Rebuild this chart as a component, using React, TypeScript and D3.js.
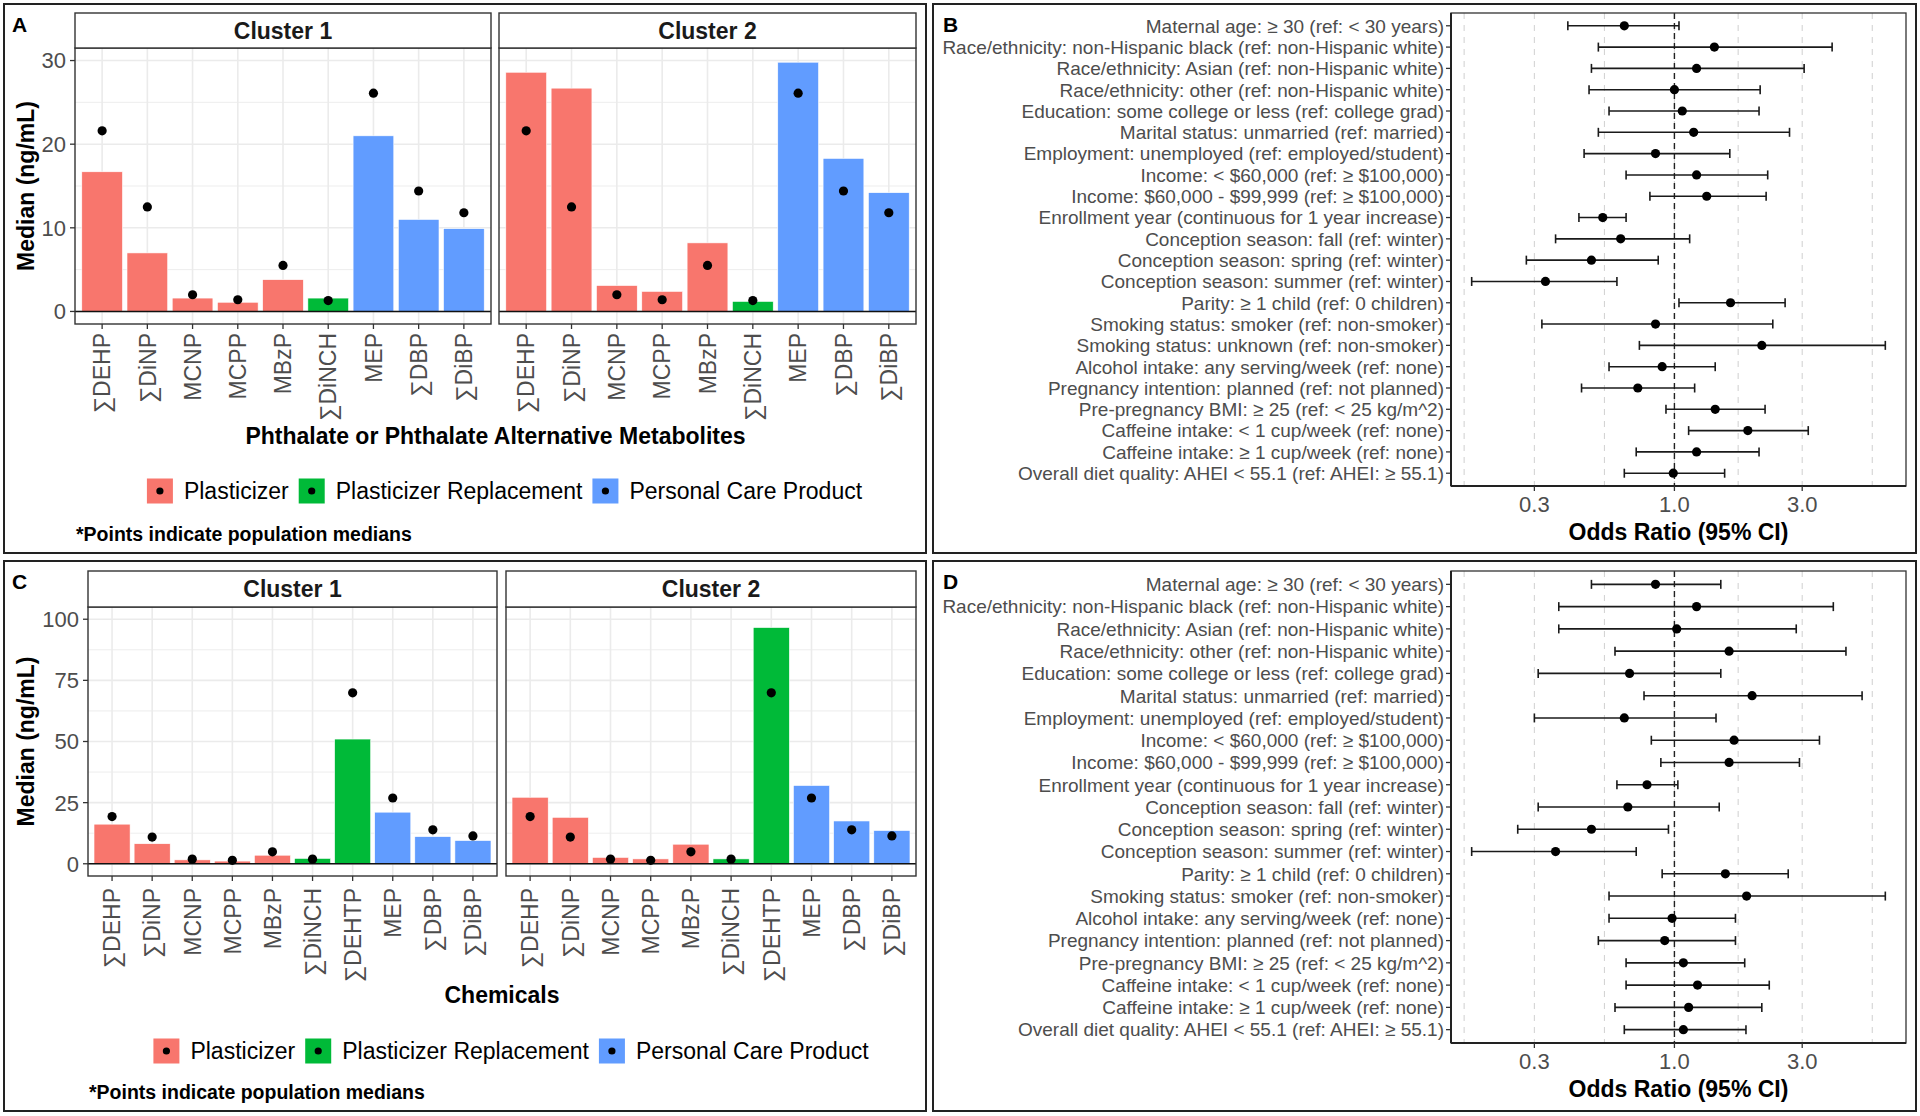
import React from 'react';
import * as d3 from 'd3';

const FONT = '"Liberation Sans", Arial, Helvetica, sans-serif';
const AXIS_GREY = '#4D4D4D';
const GRID = '#EBEBEB';

const useColors: Record<string, string> = {
  'Plasticizer': '#F8766D',
  'Plasticizer Replacement': '#00BA38',
  'Personal Care Product': '#619CFF',
};
const useTypes = ['Plasticizer', 'Plasticizer Replacement', 'Personal Care Product'];

// panel A: phthalate / alternative metabolites, median ng/mL
const metabolitesA = ['∑DEHP', '∑DiNP', 'MCNP', 'MCPP', 'MBzP', '∑DiNCH', 'MEP', '∑DBP', '∑DiBP'];
const useA = ['Plasticizer', 'Plasticizer', 'Plasticizer', 'Plasticizer', 'Plasticizer',
  'Plasticizer Replacement', 'Personal Care Product', 'Personal Care Product', 'Personal Care Product'];
const cluster1A = [16.7, 7.0, 1.6, 1.1, 3.8, 1.6, 21.0, 11.0, 9.9];
const cluster2A = [28.6, 26.7, 3.1, 2.4, 8.2, 1.2, 29.8, 18.3, 14.2];
const populationA = [21.6, 12.5, 2.0, 1.4, 5.5, 1.3, 26.1, 14.4, 11.8];

// panel C: chemicals, median ng/mL
const metabolitesC = ['∑DEHP', '∑DiNP', 'MCNP', 'MCPP', 'MBzP', '∑DiNCH', '∑DEHTP', 'MEP', '∑DBP', '∑DiBP'];
const useC = ['Plasticizer', 'Plasticizer', 'Plasticizer', 'Plasticizer', 'Plasticizer',
  'Plasticizer Replacement', 'Plasticizer Replacement', 'Personal Care Product', 'Personal Care Product', 'Personal Care Product'];
const cluster1C = [16.2, 8.2, 1.6, 1.1, 3.5, 2.2, 51.0, 21.1, 11.1, 9.5];
const cluster2C = [27.2, 19.0, 2.6, 2.0, 8.0, 2.0, 96.6, 32.0, 17.5, 13.6];
const populationC = [19.3, 10.9, 1.9, 1.4, 4.9, 1.9, 69.9, 26.9, 13.9, 11.4];

// panels B and D: odds ratios (95% CI)
const predictorsB = [
  'Maternal age: ≥ 30 (ref: < 30 years)',
  'Race/ethnicity: non-Hispanic black (ref: non-Hispanic white)',
  'Race/ethnicity: Asian (ref: non-Hispanic white)',
  'Race/ethnicity: other (ref: non-Hispanic white)',
  'Education: some college or less (ref: college grad)',
  'Marital status: unmarried (ref: married)',
  'Employment: unemployed (ref: employed/student)',
  'Income: < $60,000 (ref: ≥ $100,000)',
  'Income: $60,000 - $99,999 (ref: ≥ $100,000)',
  'Enrollment year (continuous for 1 year increase)',
  'Conception season: fall (ref: winter)',
  'Conception season: spring (ref: winter)',
  'Conception season: summer (ref: winter)',
  'Parity: ≥ 1 child (ref: 0 children)',
  'Smoking status: smoker (ref: non-smoker)',
  'Smoking status: unknown (ref: non-smoker)',
  'Alcohol intake: any serving/week (ref: none)',
  'Pregnancy intention: planned (ref: not planned)',
  'Pre-pregnancy BMI: ≥ 25 (ref: < 25 kg/m^2)',
  'Caffeine intake: < 1 cup/week (ref: none)',
  'Caffeine intake: ≥ 1 cup/week (ref: none)',
  'Overall diet quality: AHEI < 55.1 (ref: AHEI: ≥ 55.1)',
];
const orB = [0.65, 1.41, 1.21, 1.00, 1.07, 1.18, 0.85, 1.21, 1.32, 0.54, 0.63, 0.49, 0.33, 1.62, 0.85, 2.12, 0.90, 0.73, 1.42, 1.88, 1.21, 0.99];
const loB = [0.40, 0.52, 0.49, 0.48, 0.57, 0.52, 0.46, 0.66, 0.81, 0.44, 0.36, 0.28, 0.175, 1.04, 0.32, 0.74, 0.57, 0.45, 0.93, 1.13, 0.72, 0.65];
const hiB = [1.04, 3.88, 3.05, 2.09, 2.07, 2.69, 1.61, 2.23, 2.20, 0.66, 1.14, 0.87, 0.61, 2.59, 2.33, 6.13, 1.42, 1.19, 2.18, 3.16, 2.07, 1.54];

const predictorsD = predictorsB.filter(p => p !== 'Smoking status: unknown (ref: non-smoker)');
const orD = [0.85, 1.21, 1.02, 1.60, 0.68, 1.95, 0.65, 1.67, 1.60, 0.79, 0.67, 0.49, 0.36, 1.55, 1.86, 0.98, 0.92, 1.08, 1.22, 1.13, 1.08];
const loD = [0.49, 0.37, 0.37, 0.60, 0.31, 0.77, 0.30, 0.82, 0.89, 0.61, 0.31, 0.26, 0.175, 0.90, 0.57, 0.57, 0.52, 0.66, 0.66, 0.60, 0.65];
const hiD = [1.49, 3.92, 2.85, 4.37, 1.49, 5.02, 1.43, 3.48, 2.93, 1.03, 1.47, 0.95, 0.72, 2.66, 6.13, 1.69, 1.69, 1.83, 2.26, 2.12, 1.85];

const orBreaks = [0.3, 1, 3];
const orMinor = [0.164, 0.548, 1.73, 5.48];

let measureCtx: CanvasRenderingContext2D | null = null;
function textWidth(s: string, font: string) {
  if (!measureCtx) measureCtx = document.createElement('canvas').getContext('2d');
  if (!measureCtx) return s.length * 11;
  measureCtx.font = font;
  return measureCtx.measureText(s).width;
}

interface Facet { title: string; x0: number; x1: number; values: number[] }

interface BarPanelProps {
  letter: string;
  box: [number, number, number, number];
  cats: string[];
  uses: string[];
  medians: number[];
  facets: Facet[];
  stripTop: number;
  stripBottom: number;
  panelBottom: number;
  yDomain: [number, number];
  yTicks: number[];
  yMinor: number[];
  labelGap: number;
  xTitle: string;
  xTitleY: number;
  legendY: number;
  noteY: number;
}

function Legend({ cx, cy }: { cx: number; cy: number }) {
  const font = `23px ${FONT}`;
  const key = 26, gapText = 11, gapItem = 10;
  const widths = useTypes.map(t => textWidth(t, font));
  const total = widths.reduce((a, w) => a + key + gapText + w, 0) + gapItem * (useTypes.length - 1);
  let x = cx - total / 2;
  const items = useTypes.map((t, i) => {
    const x0 = x;
    x += key + gapText + widths[i] + gapItem;
    return (
      <g key={t}>
        <rect x={x0} y={cy - 12.5} width={key} height={25} fill={useColors[t]} />
        <circle cx={x0 + key / 2} cy={cy} r={3.6} fill="#000" />
        <text x={x0 + key + gapText} y={cy} dy="0.36em" fontSize={23} fill="#000">{t}</text>
      </g>
    );
  });
  return <g>{items}</g>;
}

function BarPanel(p: BarPanelProps) {
  const y = d3.scaleLinear().domain(p.yDomain).range([p.panelBottom, p.stripBottom]);
  const [bx0, by0, bx1, by1] = p.box;
  const plotL = p.facets[0].x0;
  const plotR = p.facets[p.facets.length - 1].x1;
  return (
    <g fontFamily={FONT}>
      <rect x={bx0} y={by0} width={bx1 - bx0} height={by1 - by0} fill="white" stroke="#222" strokeWidth={2} />
      <text x={bx0 + 8} y={by0 + 28} fontSize={21} fontWeight="bold">{p.letter}</text>
      {p.facets.map((f, fi) => {
        const x = d3.scalePoint<string>().domain(p.cats).range([f.x0, f.x1]).padding(0.6);
        const bw = x.step() * 0.9;
        return (
          <g key={fi}>
            {p.yMinor.map(v => (
              <line key={'mn' + v} x1={f.x0} x2={f.x1} y1={y(v)} y2={y(v)} stroke={GRID} strokeWidth={0.9} />
            ))}
            {p.yTicks.map(v => (
              <line key={'mj' + v} x1={f.x0} x2={f.x1} y1={y(v)} y2={y(v)} stroke={GRID} strokeWidth={1.6} />
            ))}
            {p.cats.map(c => (
              <line key={'gx' + c} x1={x(c)} x2={x(c)} y1={p.stripBottom} y2={p.panelBottom} stroke={GRID} strokeWidth={1.6} />
            ))}
            {f.values.map((v, i) => (
              <rect key={'b' + i} x={(x(p.cats[i]) as number) - bw / 2} y={y(v)} width={bw}
                height={y(0) - y(v)} fill={useColors[p.uses[i]]} stroke="white" strokeWidth={0.6} />
            ))}
            <line x1={f.x0} x2={f.x1} y1={y(0)} y2={y(0)} stroke="#111" strokeWidth={1.4} />
            {p.medians.map((m, i) => (
              <circle key={'m' + i} cx={x(p.cats[i])} cy={y(m)} r={4.6} fill="#000" />
            ))}
            <rect x={f.x0} y={p.stripBottom} width={f.x1 - f.x0} height={p.panelBottom - p.stripBottom}
              fill="none" stroke="#333" strokeWidth={1.4} />
            <rect x={f.x0} y={p.stripTop} width={f.x1 - f.x0} height={p.stripBottom - p.stripTop}
              fill="white" stroke="#333" strokeWidth={1.4} />
            <text x={(f.x0 + f.x1) / 2} y={(p.stripTop + p.stripBottom) / 2} dy="0.36em" textAnchor="middle"
              fontSize={23} fontWeight="bold" fill="#1A1A1A">{f.title}</text>
            {p.cats.map(c => (
              <g key={'t' + c}>
                <line x1={x(c)} x2={x(c)} y1={p.panelBottom} y2={p.panelBottom + 5} stroke="#333" strokeWidth={1.3} />
                <text transform={`translate(${x(c)},${p.panelBottom + p.labelGap}) rotate(-90)`}
                  textAnchor="end" dy="0.36em" fontSize={23} fill={AXIS_GREY}>{c}</text>
              </g>
            ))}
          </g>
        );
      })}
      {p.yTicks.map(v => (
        <g key={'yt' + v}>
          <line x1={plotL - 5} x2={plotL} y1={y(v)} y2={y(v)} stroke="#333" strokeWidth={1.3} />
          <text x={plotL - 9} y={y(v)} dy="0.36em" textAnchor="end" fontSize={22} fill={AXIS_GREY}>{v}</text>
        </g>
      ))}
      <text transform={`translate(${bx0 + 22},${(p.stripBottom + p.panelBottom) / 2}) rotate(-90)`}
        textAnchor="middle" dy="0.36em" fontSize={23} fontWeight="bold">Median (ng/mL)</text>
      <text x={(plotL + plotR) / 2} y={p.xTitleY} textAnchor="middle" fontSize={23} fontWeight="bold">{p.xTitle}</text>
      <Legend cx={(plotL + plotR) / 2 + 9} cy={p.legendY} />
      <text x={plotL + 1} y={p.noteY} fontSize={19.5} fontWeight="bold">*Points indicate population medians</text>
    </g>
  );
}

interface ForestProps {
  letter: string;
  box: [number, number, number, number];
  labels: string[];
  or: number[];
  lo: number[];
  hi: number[];
  x0: number;
  x1: number;
  y0: number;
  y1: number;
}

function Forest(p: ForestProps) {
  const logs = [...p.lo, ...p.hi].map(v => Math.log10(v));
  const [lmin, lmax] = d3.extent(logs) as [number, number];
  const pad = (lmax - lmin) * 0.05;
  const x = d3.scaleLog().domain([10 ** (lmin - pad), 10 ** (lmax + pad)]).range([p.x0, p.x1]);
  const y = d3.scalePoint<string>().domain(p.labels).range([p.y0, p.y1]).padding(0.6);
  const [bx0, by0, bx1, by1] = p.box;
  const cap = 4.5;
  return (
    <g fontFamily={FONT}>
      <rect x={bx0} y={by0} width={bx1 - bx0} height={by1 - by0} fill="white" stroke="#222" strokeWidth={2} />
      <text x={bx0 + 10} y={by0 + 28} fontSize={21} fontWeight="bold">{p.letter}</text>
      {[...orMinor, ...orBreaks].map(v => (
        <line key={'g' + v} x1={x(v)} x2={x(v)} y1={p.y0} y2={p.y1} stroke="#D4D4D4" strokeWidth={1.1} strokeDasharray="6,6" />
      ))}
      <line x1={x(1)} x2={x(1)} y1={p.y0} y2={p.y1} stroke="#222" strokeWidth={1.4} strokeDasharray="6,4" />
      {p.labels.map((l, i) => {
        const yy = y(l) as number;
        return (
          <g key={l}>
            <line x1={x(p.lo[i])} x2={x(p.hi[i])} y1={yy} y2={yy} stroke="#1A1A1A" strokeWidth={1.6} />
            <line x1={x(p.lo[i])} x2={x(p.lo[i])} y1={yy - cap} y2={yy + cap} stroke="#1A1A1A" strokeWidth={1.6} />
            <line x1={x(p.hi[i])} x2={x(p.hi[i])} y1={yy - cap} y2={yy + cap} stroke="#1A1A1A" strokeWidth={1.6} />
            <circle cx={x(p.or[i])} cy={yy} r={4.6} fill="#000" />
            <line x1={p.x0 - 5} x2={p.x0} y1={yy} y2={yy} stroke="#333" strokeWidth={1.3} />
            <text x={p.x0 - 7} y={yy} dy="0.36em" textAnchor="end" fontSize={19} fill={AXIS_GREY}>{l}</text>
          </g>
        );
      })}
      <rect x={p.x0} y={p.y0} width={p.x1 - p.x0} height={p.y1 - p.y0} fill="none" stroke="#333" strokeWidth={1.3} />
      <line x1={p.x0} x2={p.x0} y1={p.y0} y2={p.y1} stroke="#222" strokeWidth={2} />
      <line x1={p.x0} x2={p.x1} y1={p.y1} y2={p.y1} stroke="#222" strokeWidth={2} />
      {orBreaks.map(v => (
        <g key={'xt' + v}>
          <line x1={x(v)} x2={x(v)} y1={p.y1} y2={p.y1 + 5} stroke="#333" strokeWidth={1.3} />
          <text x={x(v)} y={p.y1 + 26} textAnchor="middle" fontSize={22} fill={AXIS_GREY}>{v.toFixed(1)}</text>
        </g>
      ))}
      <text x={(p.x0 + p.x1) / 2} y={p.y1 + 54} textAnchor="middle" fontSize={23} fontWeight="bold">Odds Ratio (95% CI)</text>
    </g>
  );
}

export default function App() {
  return (
    <svg width={1920} height={1116} style={{ position: 'absolute', left: 0, top: 0, background: 'white' }}>
      <rect x={0} y={0} width={1920} height={1116} fill="white" />
      <BarPanel
        letter="A" box={[4, 4, 926, 553]}
        cats={metabolitesA} uses={useA} medians={populationA}
        facets={[
          { title: 'Cluster 1', x0: 75, x1: 491, values: cluster1A },
          { title: 'Cluster 2', x0: 499, x1: 916, values: cluster2A },
        ]}
        stripTop={13} stripBottom={48} panelBottom={324}
        yDomain={[-1.5, 31.5]} yTicks={[0, 10, 20, 30]} yMinor={[5, 15, 25]}
        labelGap={9}
        xTitle="Phthalate or Phthalate Alternative Metabolites" xTitleY={444}
        legendY={491} noteY={541}
      />
      <Forest letter="B" box={[933, 4, 1916, 553]} labels={predictorsB} or={orB} lo={loB} hi={hiB}
        x0={1451} x1={1906} y0={13} y1={486} />
      <BarPanel
        letter="C" box={[4, 561, 926, 1111]}
        cats={metabolitesC} uses={useC} medians={populationC}
        facets={[
          { title: 'Cluster 1', x0: 88, x1: 497, values: cluster1C },
          { title: 'Cluster 2', x0: 506, x1: 916, values: cluster2C },
        ]}
        stripTop={571} stripBottom={607} panelBottom={876}
        yDomain={[-5, 105]} yTicks={[0, 25, 50, 75, 100]} yMinor={[12.5, 37.5, 62.5, 87.5]}
        labelGap={12}
        xTitle="Chemicals" xTitleY={1003}
        legendY={1051} noteY={1099}
      />
      <Forest letter="D" box={[933, 561, 1916, 1111]} labels={predictorsD} or={orD} lo={loD} hi={hiD}
        x0={1451} x1={1906} y0={571} y1={1043} />
    </svg>
  );
}
